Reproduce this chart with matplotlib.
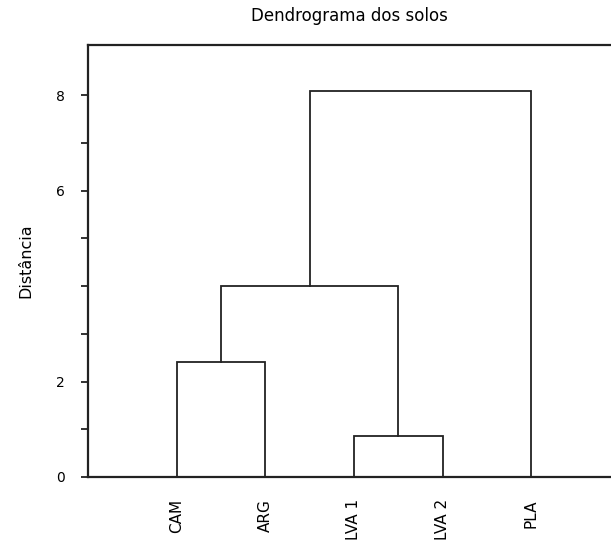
import matplotlib
matplotlib.use("Agg")
import matplotlib.pyplot as plt

# Data
leaves = ["CAM", "ARG", "LVA 1", "LVA 2", "PLA"]
merge_heights = {"CAM-ARG": 2.4, "LVA1-LVA2": 0.85, "G1-G2": 4.0, "ALL": 8.08}
yticks = [0, 1, 2, 3, 4, 5, 6, 7, 8]
ytick_labels = ["0", "", "2", "", "", "", "6", "", "8"]
title = "Dendrograma dos solos"
ylabel = "Distância"

plt.rcParams['font.family'] = ['DejaVu Sans']

fig = plt.figure(figsize=(6.11, 5.52), dpi=100)
ax = fig.add_axes([88/611, 1-477/552, 1-88/611, (477-45)/552])

col = "#222222"
lw = 1.3
pos = {name: i + 1 for i, name in enumerate(leaves)}

def link(ax, xl, xr, yl, yr, h):
    ax.plot([xl, xl, xr, xr], [yl, h, h, yr], color=col, lw=lw, solid_joinstyle='miter')

h1 = merge_heights["CAM-ARG"]
link(ax, pos["CAM"], pos["ARG"], 0, 0, h1)
h2 = merge_heights["LVA1-LVA2"]
link(ax, pos["LVA 1"], pos["LVA 2"], 0, 0, h2)
c1 = (pos["CAM"] + pos["ARG"]) / 2
c2 = (pos["LVA 1"] + pos["LVA 2"]) / 2
h3 = merge_heights["G1-G2"]
link(ax, c1, c2, h1, h2, h3)
c3 = (c1 + c2) / 2
h4 = merge_heights["ALL"]
link(ax, c3, pos["PLA"], h3, 0, h4)

ax.set_xlim(0, 5.9)
ax.set_ylim(0, 9.05)
ax.set_yticks(yticks)
ax.set_yticklabels(ytick_labels, fontsize=10)
ax.set_xticks([pos[n] for n in leaves])
ax.set_xticklabels(leaves, rotation=90, fontsize=11)
ax.tick_params(axis='x', length=0, pad=16)
ax.tick_params(axis='y', length=5, width=1.3, color=col, pad=12)

for s in ["left", "top", "bottom"]:
    ax.spines[s].set_color(col)
    ax.spines[s].set_linewidth(1.6)
ax.spines["right"].set_visible(False)

ax.set_ylabel(ylabel, fontsize=11.5, labelpad=16)
ax.set_title(title, fontsize=12, pad=17)

fig.savefig("out.png", dpi=100)
